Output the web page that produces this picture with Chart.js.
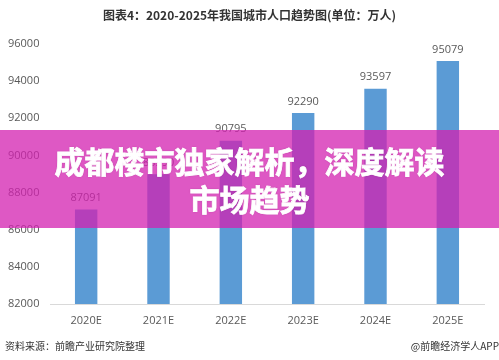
<!DOCTYPE html>
<html>
<head>
<meta charset="utf-8">
<script src="https://cdn.jsdelivr.net/npm/chart.js@4"></script>
<style>
    html, body { margin: 0; padding: 0; background: #fff; }
    #wrap { position: relative; width: 499px; height: 360px; overflow: hidden; }
    #chart { position: absolute; left: 0; top: 0; }
    .title { position: absolute; left: 0; width: 499px; top: 6px; text-align: center;
        font: bold 12px "Noto Sans CJK SC", sans-serif; color: #333; }
    .src { position: absolute; top: 338px; font: 10px "Noto Sans CJK SC", sans-serif; color: #333; }
    .banner { position: absolute; left: 0; top: 130px; width: 499px; height: 98px;
        background: rgba(211, 32, 176, 0.75); color: #fff; text-align: center;
        font: bold 30px/38px "Noto Sans CJK SC", sans-serif; padding-top: 11px; box-sizing: border-box;
        -webkit-text-stroke: 0.8px #fff;
        text-shadow: 0 0 2px rgba(120, 0, 90, 0.4); }
</style>
</head>
<body>
<div id="wrap">
    <canvas id="chart" width="499" height="360"></canvas>
    <div class="title">图表4：2020-2025年我国城市人口趋势图(单位：万人)</div>
    <div class="banner">成都楼市独家解析，深度解读<br>市场趋势</div>
    <div class="src" style="left:5px">资料来源：前瞻产业研究院整理</div>
    <div class="src" style="right:0">@前瞻经济学人APP</div>
</div>
<script>
// 数据
const years = ['2020E', '2021E', '2022E', '2023E', '2024E', '2025E'];
const population = [87091, 88990, 90795, 92290, 93597, 95079];
const yTicks = [82000, 84000, 86000, 88000, 90000, 92000, 94000, 96000];

const textColor = '#595959';
const numFont = { family: '"Open Sans", "Noto Sans", sans-serif', size: 11 };

// 柱顶数值
const valueLabels = {
    id: 'valueLabels',
    afterDatasetsDraw(chart) {
        const ctx = chart.ctx;
        const meta = chart.getDatasetMeta(0);
        ctx.save();
        ctx.font = '11px ' + numFont.family;
        ctx.fillStyle = textColor;
        ctx.textAlign = 'center';
        ctx.textBaseline = 'bottom';
        meta.data.forEach((bar, i) => {
            ctx.fillText(String(population[i]), bar.x, bar.y - 6);
        });
        ctx.restore();
    }
};

new Chart(document.getElementById('chart').getContext('2d'), {
    type: 'bar',
    data: {
        labels: years,
        datasets: [{
            data: population,
            backgroundColor: '#5b9bd5',
            barPercentage: 0.62,
            categoryPercentage: 0.5
        }]
    },
    options: {
        responsive: false,
        animation: false,
        layout: { padding: { top: 44, right: 15, bottom: 26, left: 8 } },
        plugins: { legend: { display: false }, tooltip: { enabled: false } },
        scales: {
            x: {
                grid: { display: false },
                border: { display: true, color: '#d9d9d9' },
                ticks: { color: textColor, font: numFont, padding: 2 },
                afterFit(s) { s.height = 30; }
            },
            y: {
                min: 82000,
                max: 96000,
                afterBuildTicks(s) { s.ticks = yTicks.map(v => ({ value: v })); },
                grid: { display: false },
                border: { display: false },
                ticks: {
                    color: textColor, font: numFont, crossAlign: 'far', padding: 4,
                    callback: v => String(v)
                },
                afterFit(s) { s.width = 42; }
            }
        }
    },
    plugins: [valueLabels]
});
</script>
</body>
</html>
